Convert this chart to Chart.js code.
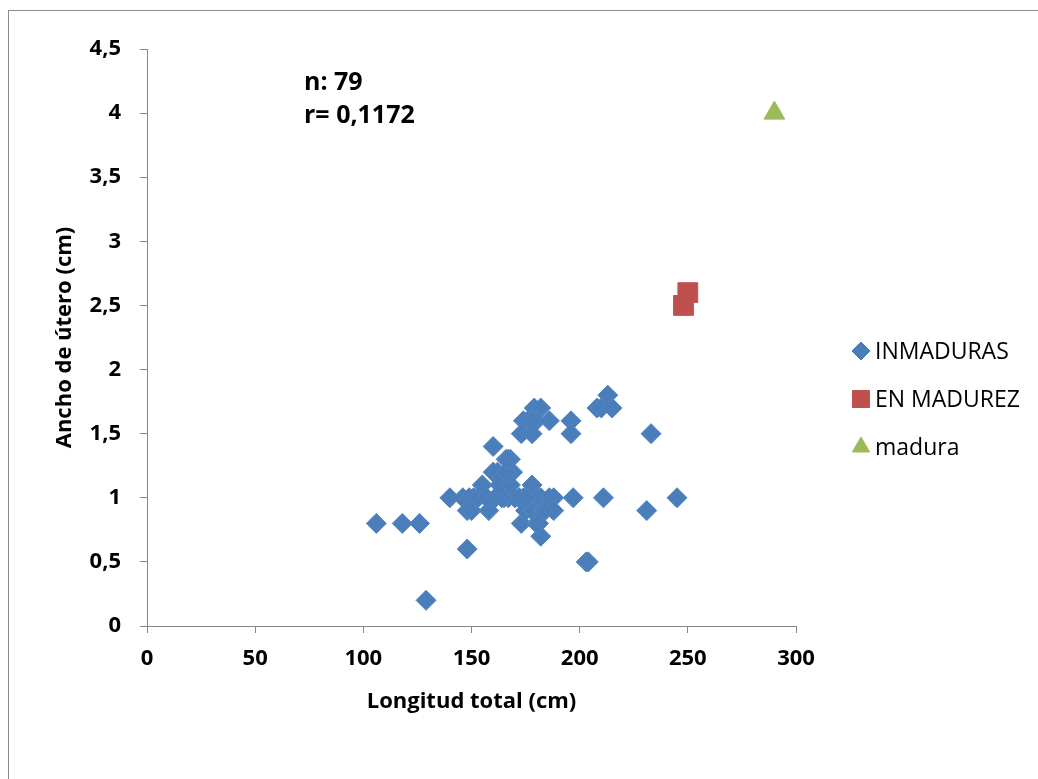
<!DOCTYPE html>
<html>
<head>
<meta charset="utf-8">
<script src="https://cdn.jsdelivr.net/npm/chart.js@4.4.1/dist/chart.umd.min.js"></script>
<style>
    html, body { margin: 0; padding: 0; background: #ffffff; }
    #wrap { width: 1038px; height: 779px; }
</style>
</head>
<body>
<div id="wrap"><canvas id="uteroChart" width="1038" height="779"></canvas></div>
<script>
// Longitud total (cm) vs ancho de útero (cm)
const inmadurasX = [106, 118, 126, 129, 148, 140, 146, 149, 151, 148, 150, 153, 155, 158, 157,
    160, 160, 162, 166, 168, 166, 169, 167, 165, 164, 161, 163, 168, 170, 172, 170, 174, 176, 172,
    173, 175, 178, 178, 177, 179, 180, 180, 181, 182, 182, 183, 184, 186, 188, 188, 175, 197, 211,
    203, 204, 231, 245, 233, 213, 208, 210, 215, 196, 196, 186, 179, 182, 174, 176, 173, 178, 180,
    178, 166, 167, 181];
const inmadurasY = [0.8, 0.8, 0.8, 0.2, 0.6, 1.0, 1.0, 1.0, 1.0, 0.9, 0.9, 1.0, 1.1, 0.9, 1.0,
    1.4, 1.2, 1.2, 1.3, 1.3, 1.1, 1.2, 1.0, 1.0, 1.0, 1.0, 1.1, 1.1, 1.0, 1.0, 1.0, 1.0, 1.0, 1.0,
    0.8, 0.9, 1.1, 0.9, 1.0, 0.9, 0.8, 1.0, 1.0, 0.7, 1.0, 0.9, 0.9, 1.0, 1.0, 0.9, 1.0, 1.0, 1.0,
    0.5, 0.5, 0.9, 1.0, 1.5, 1.8, 1.7, 1.7, 1.7, 1.6, 1.5, 1.6, 1.7, 1.7, 1.6, 1.6, 1.5, 1.5, 1.6,
    1.6, 1.2, 1.3, 0.8];
const madurezX = [250, 248];
const madurezY = [2.6, 2.5];
const maduraX = [290];
const maduraY = [4.0];

const seriesNames = ['INMADURAS', 'EN MADUREZ', 'madura'];
const xTicks = [0, 50, 100, 150, 200, 250, 300];
const yTicks = [0, 0.5, 1, 1.5, 2, 2.5, 3, 3.5, 4, 4.5];
const statsLines = ['n: 79', 'r= 0,1172'];

function toPoints(xs, ys) {
    return xs.map(function (x, i) { return { x: x, y: ys[i] }; });
}

const axisGray = '#868686';
const fontName = '"Open Sans"';
const tickFont = { family: fontName, size: 22, weight: 'bold' };
const titleFont = { family: fontName, size: 22, weight: 'bold' };

// plain frame around the chart, like the exported picture
const framePlugin = {
    id: 'frame',
    beforeDraw: function (chart) {
        const ctx = chart.ctx;
        ctx.save();
        ctx.fillStyle = '#ffffff';
        ctx.fillRect(0, 0, chart.width, chart.height);
        ctx.strokeStyle = '#8c8c8c';
        ctx.lineWidth = 1;
        ctx.strokeRect(8.5, 10.5, chart.width + 20, chart.height + 20);
        ctx.restore();
    }
};

// n and r text
const statsPlugin = {
    id: 'stats',
    afterDraw: function (chart) {
        const ctx = chart.ctx;
        ctx.save();
        ctx.fillStyle = '#000000';
        ctx.font = 'bold 25px ' + fontName;
        ctx.textBaseline = 'alphabetic';
        ctx.textAlign = 'left';
        ctx.fillText(statsLines[0], 304, 90);
        ctx.fillText(statsLines[1], 304, 123);
        ctx.restore();
    }
};

// legend on the right, drawn by hand so it sits where Excel put it
const sideLegendPlugin = {
    id: 'sideLegend',
    afterDraw: function (chart) {
        const ctx = chart.ctx;
        const sizes = [9, 12, 10];
        ctx.save();
        chart.data.datasets.forEach(function (ds, i) {
            const y = 351 + i * 48;
            ctx.fillStyle = ds.backgroundColor;
            ctx.strokeStyle = ds.backgroundColor;
            ctx.lineWidth = 1;
            Chart.helpers.drawPoint(ctx, { pointStyle: ds.pointStyle, radius: sizes[i], borderWidth: 1, rotation: 0 }, 861, y);
            ctx.fillStyle = '#000000';
            ctx.font = '23px ' + fontName;
            ctx.textBaseline = 'alphabetic';
            ctx.textAlign = 'left';
            ctx.fillText(ds.label, 875, y + 8);
        });
        ctx.restore();
    }
};

const ctx = document.getElementById('uteroChart').getContext('2d');
const uteroChart = new Chart(ctx, {
    type: 'scatter',
    data: {
        datasets: [{
            label: seriesNames[0],
            data: toPoints(inmadurasX, inmadurasY),
            pointStyle: 'rectRot',
            pointRadius: 10,
            backgroundColor: '#4a7ebb',
            borderColor: '#5586c2',
            borderWidth: 1
        }, {
            label: seriesNames[1],
            data: toPoints(madurezX, madurezY),
            pointStyle: 'rect',
            pointRadius: 14,
            backgroundColor: '#c0504d',
            borderColor: '#c0504d',
            borderWidth: 1
        }, {
            label: seriesNames[2],
            data: toPoints(maduraX, maduraY),
            pointStyle: 'triangle',
            pointRadius: 12,
            backgroundColor: '#9bbb59',
            borderColor: '#9bbb59',
            borderWidth: 1
        }]
    },
    options: {
        responsive: false,
        animation: false,
        devicePixelRatio: 1,
        layout: {
            padding: { left: 48, top: 49, right: 242, bottom: 60 }
        },
        scales: {
            x: {
                type: 'linear',
                min: 0,
                max: 300,
                afterBuildTicks: function (scale) {
                    scale.ticks = xTicks.map(function (v) { return { value: v }; });
                },
                afterFit: function (scale) { scale.height = 93; },
                grid: { drawOnChartArea: false, drawTicks: true, tickLength: 7, color: axisGray },
                border: { color: axisGray, width: 1 },
                ticks: { font: tickFont, color: '#000000', padding: 13, maxRotation: 0 },
                title: {
                    display: true,
                    text: 'Longitud total (cm)',
                    color: '#000000',
                    font: titleFont
                }
            },
            y: {
                type: 'linear',
                min: 0,
                max: 4.5,
                afterBuildTicks: function (scale) {
                    scale.ticks = yTicks.map(function (v) { return { value: v }; });
                },
                afterFit: function (scale) { scale.width = 99; },
                grid: { drawOnChartArea: false, drawTicks: true, tickLength: 7, color: axisGray },
                border: { color: axisGray, width: 1 },
                ticks: {
                    font: tickFont,
                    color: '#000000',
                    padding: 19,
                    callback: function (value) {
                        return String(value).replace('.', ',');
                    }
                },
                title: {
                    display: true,
                    text: 'Ancho de útero (cm)',
                    color: '#000000',
                    font: titleFont
                }
            }
        },
        plugins: {
            legend: { display: false },
            tooltip: { enabled: false }
        }
    },
    plugins: [framePlugin, statsPlugin, sideLegendPlugin]
});
</script>
</body>
</html>
